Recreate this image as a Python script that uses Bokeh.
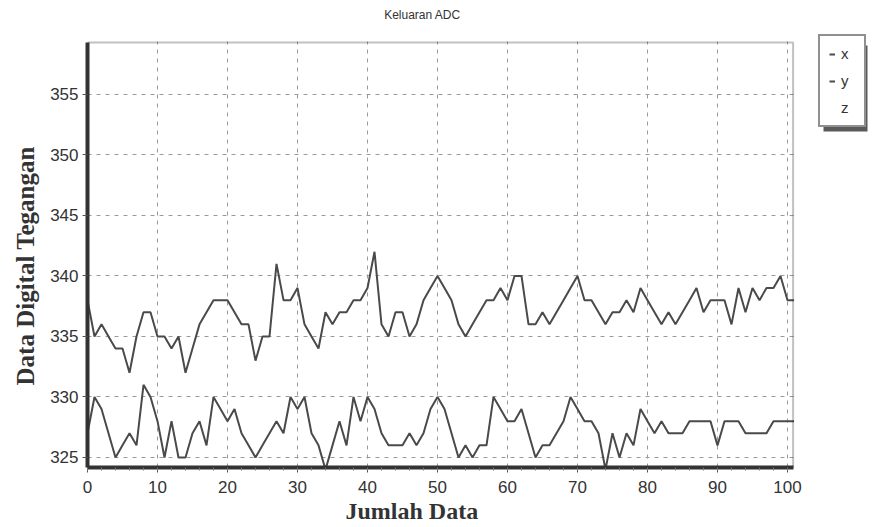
from bokeh.plotting import figure
from bokeh.models import (ColumnDataSource, Range1d, SingleIntervalTicker, Legend,
                          LegendItem, Title, BoxAnnotation, Label)
from bokeh.embed import file_html
from bokeh.resources import INLINE

# ---- data -------------------------------------------------------------
idx = list(range(0, 102))
x_vals = [338, 335, 336, 335, 334, 334, 332, 335, 337, 337,
          335, 335, 334, 335, 332, 334, 336, 337, 338, 338,
          338, 337, 336, 336, 333, 335, 335, 341, 338, 338,
          339, 336, 335, 334, 337, 336, 337, 337, 338, 338,
          339, 342, 336, 335, 337, 337, 335, 336, 338, 339,
          340, 339, 338, 336, 335, 336, 337, 338, 338, 339,
          338, 340, 340, 336, 336, 337, 336, 337, 338, 339,
          340, 338, 338, 337, 336, 337, 337, 338, 337, 339,
          338, 337, 336, 337, 336, 337, 338, 339, 337, 338,
          338, 338, 336, 339, 337, 339, 338, 339, 339, 340,
          338, 338]
y_vals = [327, 330, 329, 327, 325, 326, 327, 326, 331, 330,
          328, 325, 328, 325, 325, 327, 328, 326, 330, 329,
          328, 329, 327, 326, 325, 326, 327, 328, 327, 330,
          329, 330, 327, 326, 324, 326, 328, 326, 330, 328,
          330, 329, 327, 326, 326, 326, 327, 326, 327, 329,
          330, 329, 327, 325, 326, 325, 326, 326, 330, 329,
          328, 328, 329, 327, 325, 326, 326, 327, 328, 330,
          329, 328, 328, 327, 324, 327, 325, 327, 326, 329,
          328, 327, 328, 327, 327, 327, 328, 328, 328, 328,
          326, 328, 328, 328, 327, 327, 327, 327, 328, 328,
          328, 328]
z_vals = []  # z series not visible in the chart
series_names = ["x", "y", "z"]
title_text = "Keluaran ADC"
x_label = "Jumlah Data"
y_label = "Data Digital Tegangan"

# ---- layout constants (axis limits of the drawn plot box) --------------
X_MIN, X_MAX = 0.0, 100.8
Y_MIN, Y_MAX = 324.17, 359.3
W, H = 874, 527
FRAME_L, FRAME_R, FRAME_T, FRAME_B = 87, 874, 0, 467
PX_X = 7.0      # pixels per x unit
PX_Y = 12.1     # pixels per y unit
X_END = X_MIN + (FRAME_R - FRAME_L) / PX_X
Y_END = Y_MIN + (FRAME_B - FRAME_T) / PX_Y


def xd(px):
    return X_MIN + (px - FRAME_L) / PX_X


def yd(py):
    return Y_MIN + (FRAME_B - py) / PX_Y


p = figure(width=W, height=H, output_backend="svg", toolbar_location=None,
           title=None,
           x_range=Range1d(X_MIN, X_END), y_range=Range1d(Y_MIN, Y_END),
           min_border_left=FRAME_L, min_border_right=0, min_border_top=0,
           min_border_bottom=60)
p.background_fill_color = "white"
p.border_fill_color = "white"
p.outline_line_color = None

line_color = "#4a4a4a"
src_x = ColumnDataSource(dict(i=idx, v=x_vals))
src_y = ColumnDataSource(dict(i=idx, v=y_vals))
src_z = ColumnDataSource(dict(i=list(range(len(z_vals))), v=z_vals))
rx = p.line("i", "v", source=src_x, line_color=line_color, line_width=2)
ry = p.line("i", "v", source=src_y, line_color=line_color, line_width=2)
rz = p.line("i", "v", source=src_z, line_color=line_color, line_width=2)

# axes
p.xaxis.ticker = SingleIntervalTicker(interval=10, num_minor_ticks=5)
p.yaxis.ticker = SingleIntervalTicker(interval=5, num_minor_ticks=0)
p.xaxis.bounds = (X_MIN, X_MAX)
p.yaxis.bounds = (Y_MIN, Y_MAX)
for ax in (p.xaxis, p.yaxis):
    ax.axis_line_width = 4
    ax.axis_line_color = "#333333"
    ax.major_tick_line_color = "#555555"
    ax.minor_tick_line_color = "#777777"
    ax.major_tick_in = 0
    ax.major_tick_out = 5
    ax.minor_tick_in = 0
    ax.minor_tick_out = 3
    ax.major_label_text_font = "Liberation Sans"
    ax.major_label_text_font_size = "17px"
    ax.major_label_text_color = "#333333"
p.xaxis.major_label_standoff = 8
p.yaxis.major_label_standoff = 4
p.yaxis.major_label_orientation = "horizontal"

# axis titles as offset titles so they sit where the original has them
xt = Title(text=x_label, align="left", offset=258, standoff=0,
           text_font="Liberation Serif", text_font_style="bold",
           text_font_size="24px", text_color="#333333", vertical_align="bottom")
p.add_layout(xt, "below")
yt = Title(text=y_label, align="left", offset=82, standoff=18,
           text_font="Liberation Serif", text_font_style="bold",
           text_font_size="25px", text_color="#333333", vertical_align="bottom")
p.add_layout(yt, "left")

# grid
for g in (p.xgrid, p.ygrid):
    g.grid_line_color = "#9a9a9a"
    g.grid_line_dash = "4 5"
    g.grid_line_width = 1

# white covers outside the plot box (grid lines stop at the box)
cover_r = BoxAnnotation(left=X_MAX + 1.0 / PX_X, right=X_END, bottom=Y_MIN, top=Y_END,
                        fill_color="white", fill_alpha=1.0, line_color=None)
cover_t = BoxAnnotation(left=X_MIN, right=X_END, bottom=Y_MAX + 1.0 / PX_Y, top=Y_END,
                        fill_color="white", fill_alpha=1.0, line_color=None)
p.add_layout(cover_r)
p.add_layout(cover_t)

# plot box border
box = BoxAnnotation(left=X_MIN, right=X_MAX, bottom=Y_MIN, top=Y_MAX,
                    fill_alpha=0.0, line_color="#333333", line_width=2)
p.add_layout(box)

# title
p.add_layout(Label(x=xd(422), y=yd(14), text=title_text, text_align="center",
                   text_baseline="middle", text_font="Liberation Sans",
                   text_font_size="12px", text_color="#333333"))

# legend shadow
shadow = BoxAnnotation(left=xd(823), right=xd(867), top=yd(45), bottom=yd(131),
                       fill_color="#5a5a5a", fill_alpha=1.0, line_color=None)
p.add_layout(shadow)

legend = Legend(items=[LegendItem(label=series_names[0], renderers=[rx]),
                       LegendItem(label=series_names[1], renderers=[ry]),
                       LegendItem(label=series_names[2], renderers=[rz])],
                location=(731, 340))
legend.glyph_width = 6
legend.glyph_height = 16
legend.label_height = 16
legend.label_width = 14
legend.label_standoff = 6
legend.spacing = 10
legend.padding = 9
legend.margin = 0
legend.label_text_font = "Liberation Sans"
legend.label_text_font_size = "15px"
legend.label_text_color = "#333333"
legend.border_line_color = "#222222"
legend.border_line_width = 2
legend.background_fill_color = "white"
legend.background_fill_alpha = 1.0
p.add_layout(legend, "center")

open("out.html", "w").write(file_html(p, INLINE))
